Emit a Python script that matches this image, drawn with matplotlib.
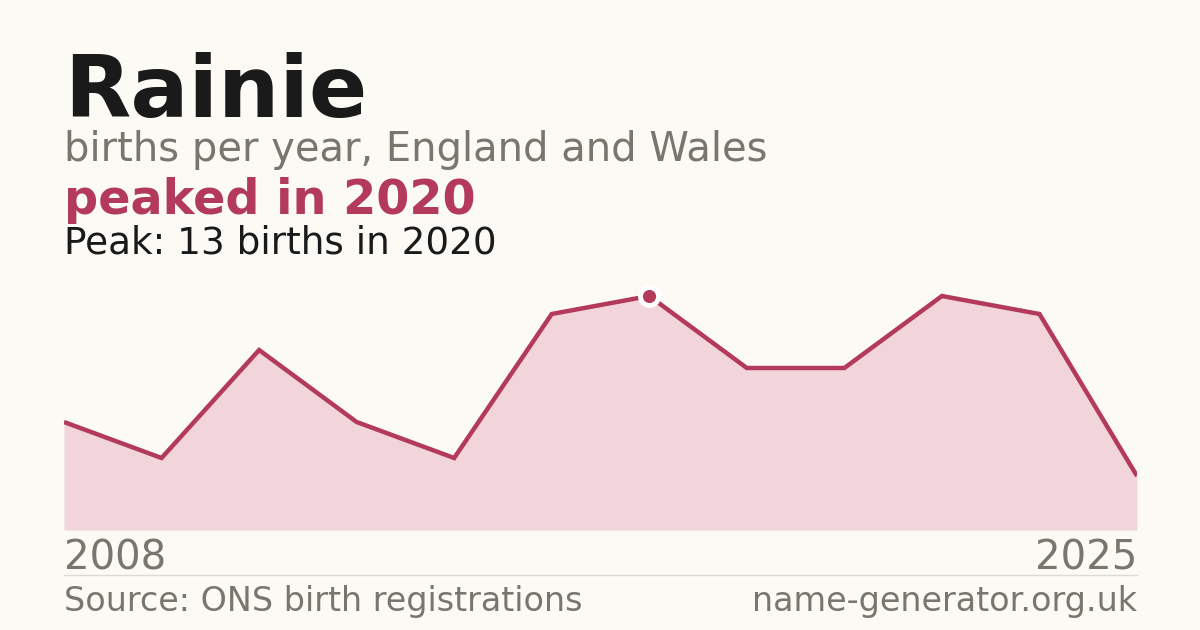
import numpy as np
import matplotlib
matplotlib.use("Agg")
import matplotlib.pyplot as plt

# data
years = [2008, 2012, 2014, 2016, 2018, 2019, 2020, 2021, 2022, 2023, 2024, 2025]
births = [6, 4, 10, 6, 4, 12, 13, 9, 9, 13, 12, 3]

name = "Rainie"
subtitle = "births per year, England and Wales"
headline = "peaked in 2020"
peak_note = "Peak: 13 births in 2020"
source = "Source: ONS birth registrations"
site = "name-generator.org.uk"

bg = "#fbfaf5"
red = "#b33a5a"
fill_col = "#f2d5db"
grey = "#7a756d"

plt.rcParams['font.family'] = ['DejaVu Sans']

W, H = 1200, 630
fig = plt.figure(figsize=(W / 100, H / 100), dpi=100, facecolor=bg)

# axes: x 64..1137 px, baseline at y=530, 18 px per birth
left, right = 64, 1137
bottom = 530
ymax = 14
top = bottom - ymax * 18
ax = fig.add_axes([left / W, 1 - bottom / H, (right - left) / W, (bottom - top) / H])
ax.set_facecolor("none")

x = np.arange(len(births))
ax.fill_between(x, births, 0, color=fill_col, lw=0)
ax.plot(x, births, color=red, lw=3.2, solid_joinstyle="miter", solid_capstyle="butt")
pk = int(np.argmax(births))
ax.plot(x[pk], births[pk], "o", ms=13, color=red, mec="white", mew=3.5, zorder=5)
ax.set_xlim(0, len(births) - 1)
ax.set_ylim(0, ymax)
ax.axis("off")

# text
fig.text(64 / W, 1 - 117 / H, name, fontsize=62, fontweight="bold", color="#1a1a1a")
fig.text(64 / W, 1 - 161 / H, subtitle, fontsize=28.8, color=grey)
fig.text(64 / W, 1 - 214 / H, headline, fontsize=34.4, fontweight="bold", color=red)
fig.text(64 / W, 1 - 254 / H, peak_note, fontsize=26.9, color="#1a1a1a")

fig.text(64 / W, 1 - 570 / H, str(years[0]), fontsize=29, color=grey)
fig.text(1137 / W, 1 - 570 / H, str(years[-1]), fontsize=29, color=grey, ha="right")
fig.add_artist(plt.Line2D([64 / W, 1137 / W], [1 - 575 / H, 1 - 575 / H], color="#dddad3", lw=1))
fig.text(64 / W, 1 - 611 / H, source, fontsize=24, color=grey)
fig.text(1137 / W, 1 - 611 / H, site, fontsize=24, color=grey, ha="right")

fig.savefig("out.png", dpi=100, facecolor=bg)
